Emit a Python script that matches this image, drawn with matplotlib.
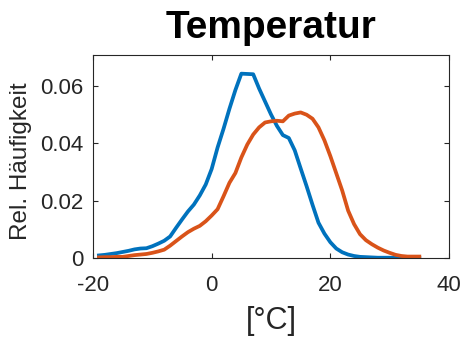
import matplotlib
matplotlib.use("Agg")
import matplotlib.pyplot as plt
import numpy as np

plt.rcParams['font.family'] = ['Liberation Sans', 'DejaVu Sans']

# Temperature grid (°C)
temp = list(range(-19, 36))

# Series 1 (blue)
freq_blue = [0.0009, 0.0011, 0.0014, 0.0017, 0.0021, 0.0025, 0.0030, 0.0033, 0.0034, 0.0041,
             0.0050, 0.0060, 0.0075, 0.0105, 0.0134, 0.0162, 0.0186, 0.0218, 0.0256, 0.0310,
             0.0385, 0.0450, 0.0520, 0.0585, 0.0642, 0.0641, 0.0640, 0.0590, 0.0545, 0.0500,
             0.0460, 0.0428, 0.0418, 0.0375, 0.0312, 0.0250, 0.0185, 0.0123, 0.0085, 0.0055,
             0.0033, 0.0020, 0.0012, 0.0007, 0.0004, 0.0003, 0.0002, 0.0001, 0.0001, 0.0001,
             0.0001, 0.0001, 0.0000, 0.0000, 0.0000]

# Series 2 (orange)
freq_orange = [0.0002, 0.0003, 0.0003, 0.0004, 0.0004, 0.0007, 0.0010, 0.0012, 0.0014, 0.0018,
               0.0023, 0.0029, 0.0043, 0.0059, 0.0075, 0.0090, 0.0102, 0.0112, 0.0128, 0.0148,
               0.0170, 0.0215, 0.0262, 0.0296, 0.0350, 0.0395, 0.0430, 0.0455, 0.0472, 0.0476,
               0.0478, 0.0476, 0.0496, 0.0503, 0.0507, 0.0499, 0.0485, 0.0455, 0.0410, 0.0355,
               0.0295, 0.0235, 0.0165, 0.0118, 0.0083, 0.0062, 0.0048, 0.0036, 0.0026, 0.0018,
               0.0011, 0.0007, 0.0005, 0.0005, 0.0005]

xticks = [-20, 0, 20, 40]
yticks = [0, 0.02, 0.04, 0.06]
ytick_labels = ['0', '0.02', '0.04', '0.06']

W, H = 464, 338
fig = plt.figure(figsize=(W / 100, H / 100), dpi=100)
ax = fig.add_axes([93 / W, (H - 258) / H, (449 - 93) / W, (258 - 55) / H])

ax.plot(temp, freq_blue, color='#0072BD', lw=2.7, solid_joinstyle='round')
ax.plot(temp, freq_orange, color='#D95319', lw=2.7, solid_joinstyle='round')

ax.set_xlim(-20, 40)
ax.set_ylim(0, 0.0707)
ax.set_xticks(xticks)
ax.set_xticklabels([str(t) for t in xticks])
ax.set_yticks(yticks)
ax.set_yticklabels(ytick_labels)

dark = '#262626'
for s in ax.spines.values():
    s.set_color(dark)
    s.set_linewidth(0.8)
ax.tick_params(direction='in', length=3.5, width=0.8, color=dark, labelcolor=dark,
               labelsize=16, top=True, right=True)
ax.tick_params(axis='x', pad=12)
ax.tick_params(axis='y', pad=7)

ax.set_title('Temperatur', fontsize=28, fontweight='bold', color='#000000', pad=12)
ax.set_xlabel('[°C]', fontsize=22, color=dark, labelpad=7.5)
ax.set_ylabel('Rel. Häufigkeit', fontsize=17.5, color=dark)
ax.yaxis.set_label_coords(-0.171, 0.475)

fig.savefig('out.png', dpi=100)
